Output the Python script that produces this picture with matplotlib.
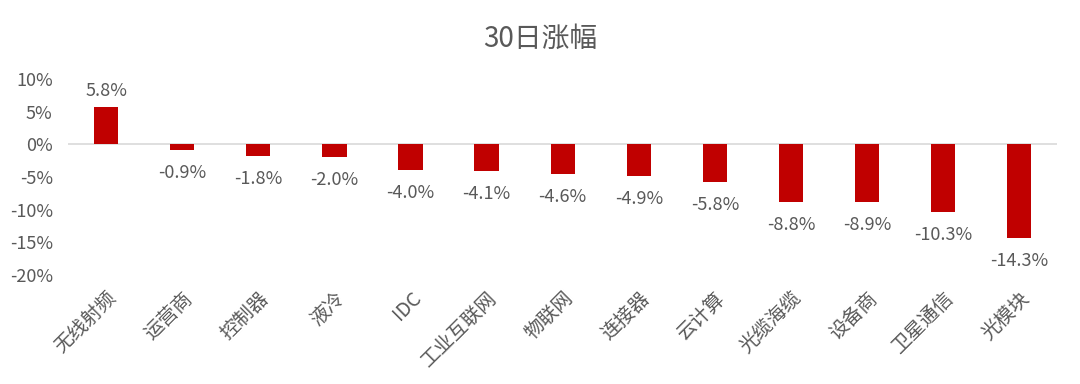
import numpy as np
import matplotlib
matplotlib.use("Agg")
import matplotlib.pyplot as plt
from matplotlib.ticker import FuncFormatter

plt.rcParams['font.family'] = ['Noto Sans CJK SC', 'DejaVu Sans']

categories = ["无线射频", "运营商", "控制器", "液冷", "IDC", "工业互联网", "物联网",
              "连接器", "云计算", "光缆海缆", "设备商", "卫星通信", "光模块"]
values = [5.8, -0.9, -1.8, -2.0, -4.0, -4.1, -4.6, -4.9, -5.8, -8.8, -8.9, -10.3, -14.3]
yticks = [10, 5, 0, -5, -10, -15, -20]

text_color = "#595959"
bar_color = "#C00000"

fig = plt.figure(figsize=(10.8, 3.84), dpi=100)
ax = fig.add_axes([0.063, 0.284, 0.916, 0.51])

x = np.arange(len(categories))
ax.bar(x, values, width=0.32, color=bar_color, zorder=2)

ax.set_ylim(-20, 10)
ax.set_xlim(-0.5, len(categories) - 0.5)
ax.set_yticks(yticks)
ax.yaxis.set_major_formatter(FuncFormatter(lambda v, _: f"{v:.0f}%"))
ax.axhline(0, color="#d9d9d9", linewidth=1.2, zorder=1)

for s in ax.spines.values():
    s.set_visible(False)
ax.tick_params(axis="both", length=0, colors=text_color, labelsize=13)
ax.tick_params(axis="y", pad=11)

ax.set_xticks(x)
ax.set_xticklabels(categories, rotation=45, ha="right", va="top",
                   rotation_mode="anchor", fontsize=14, color=text_color)
ax.tick_params(axis="x", pad=9)

for xi, v in zip(x, values):
    if v >= 0:
        ax.annotate(f"{v:.1f}%", (xi, v), xytext=(0, 5), textcoords="offset points",
                    ha="center", va="bottom", fontsize=13, color=text_color)
    else:
        ax.annotate(f"{v:.1f}%", (xi, v), xytext=(0, -10), textcoords="offset points",
                    ha="center", va="top", fontsize=13, color=text_color)

fig.text(0.5, 0.9, "30日涨幅", ha="center", va="center", fontsize=20, color=text_color)

fig.savefig("out.png", dpi=100)
